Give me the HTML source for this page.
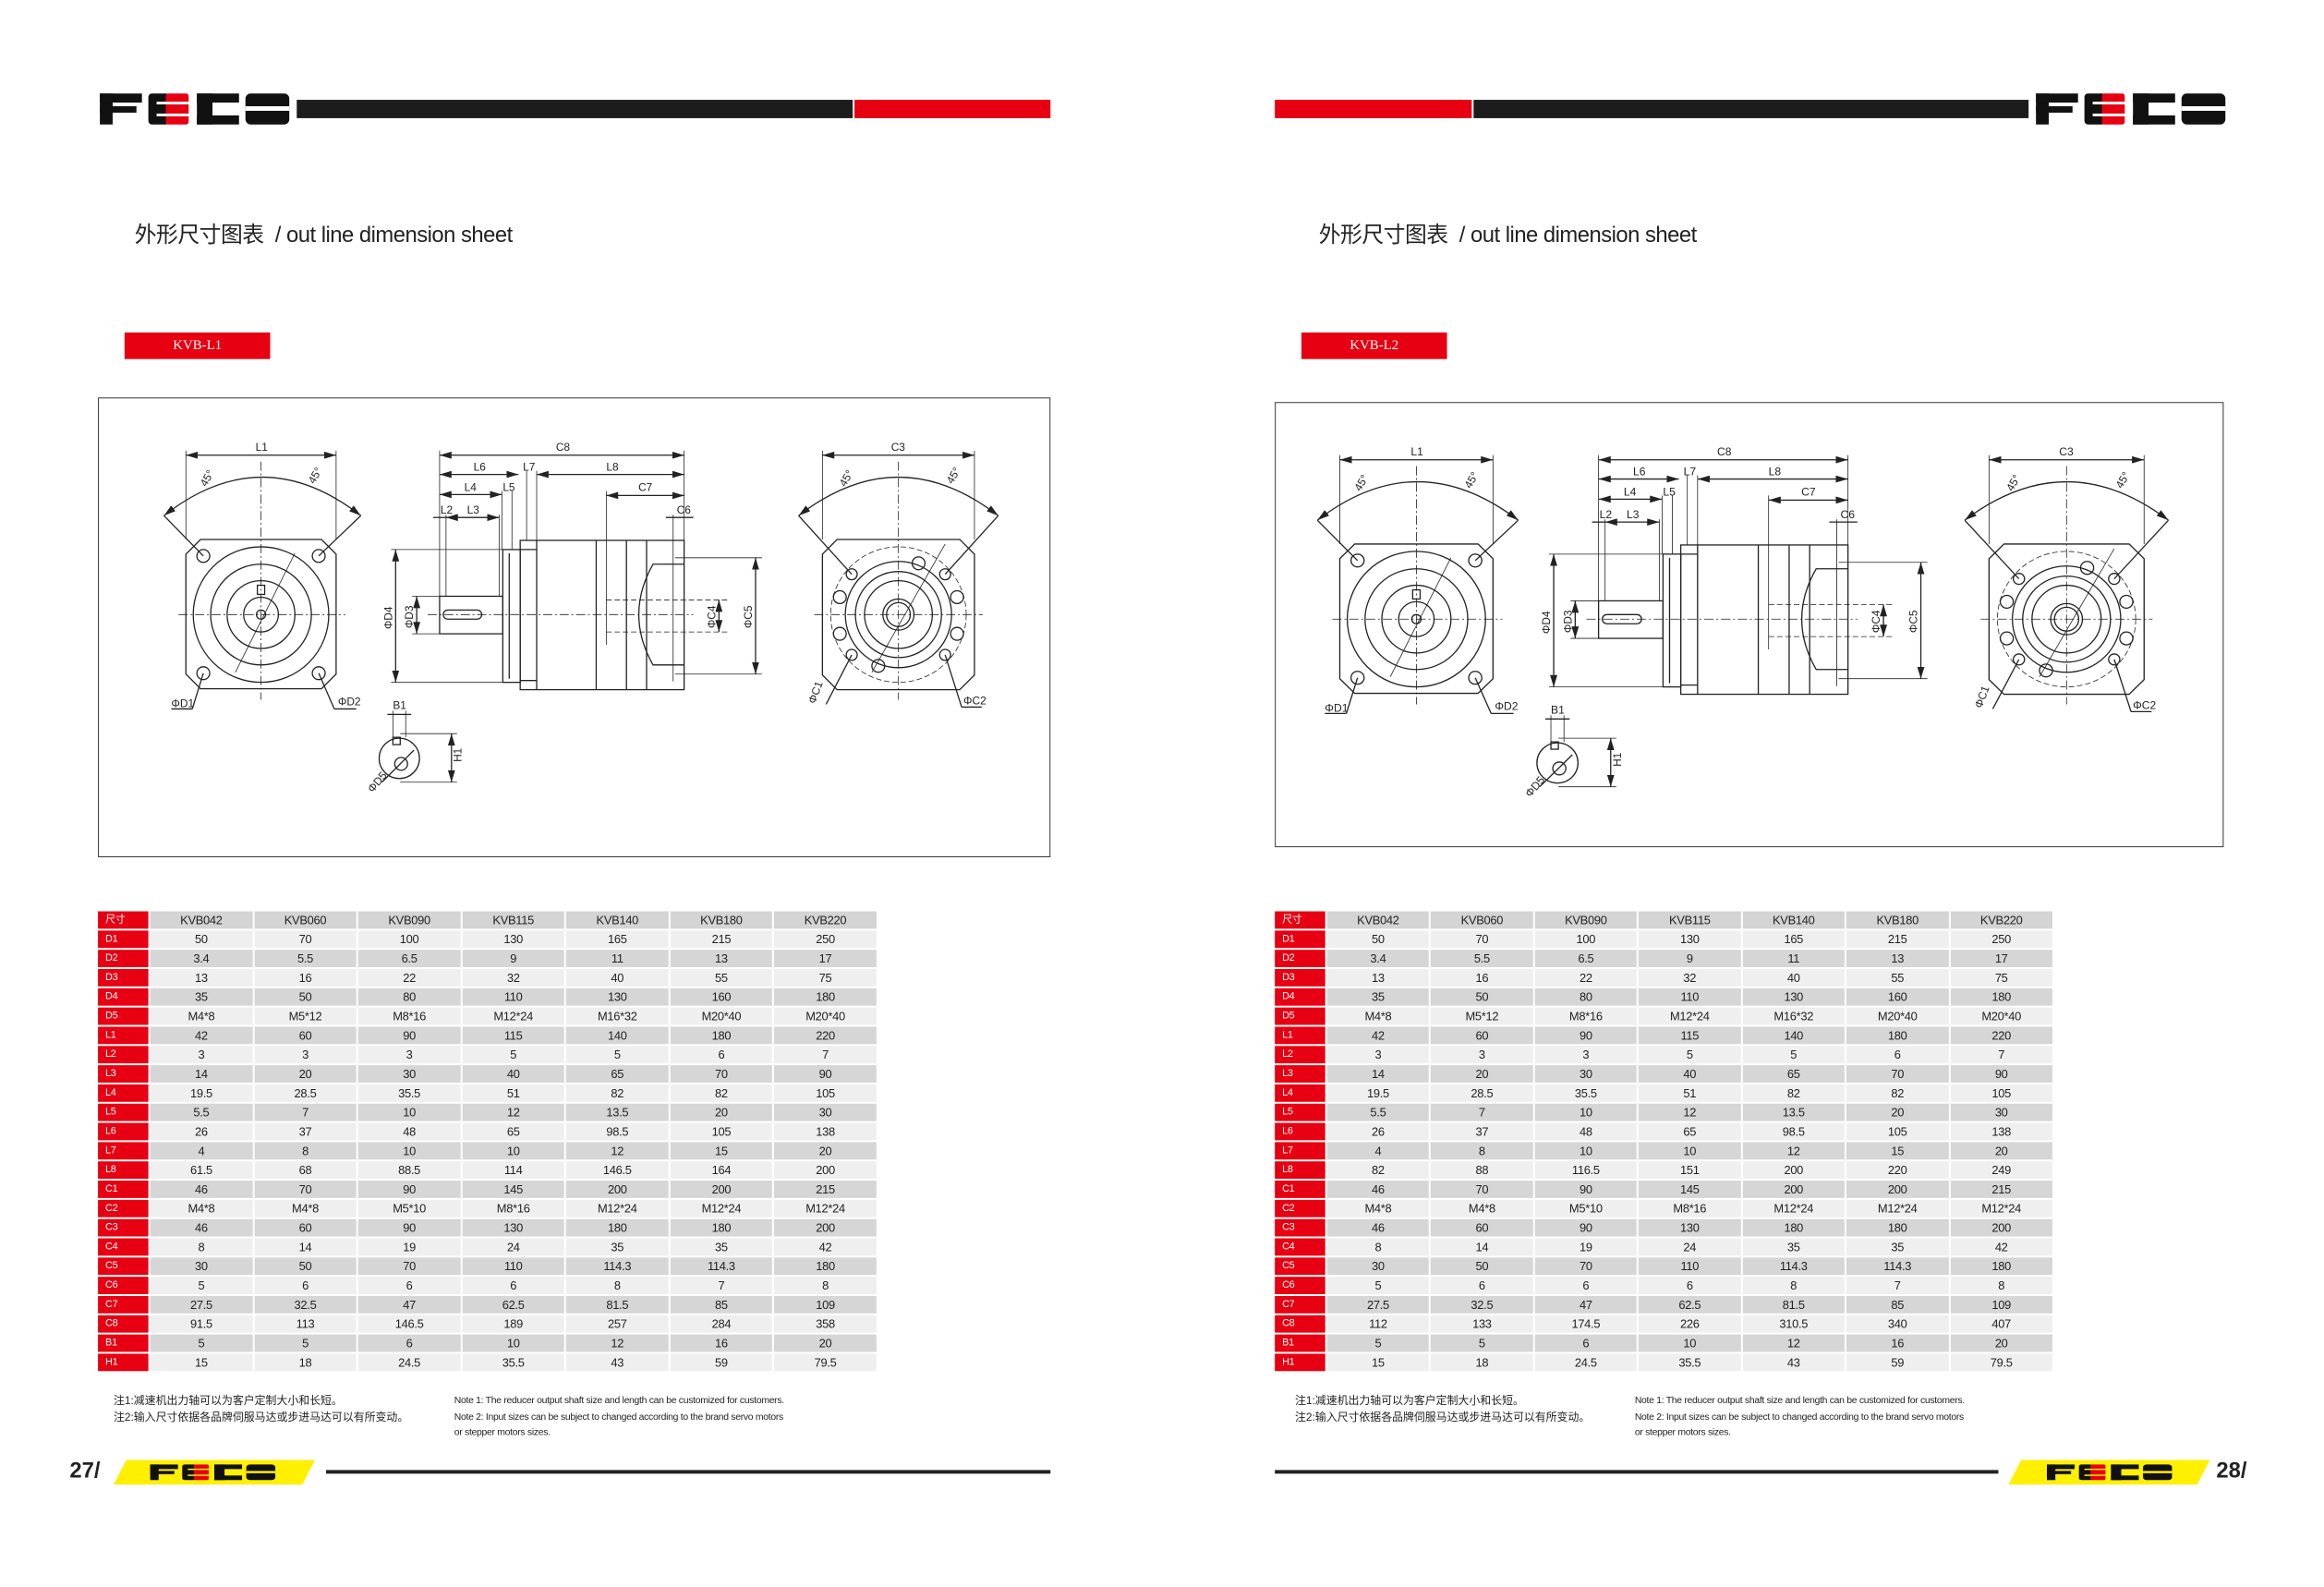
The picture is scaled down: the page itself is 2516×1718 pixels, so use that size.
<!DOCTYPE html>
<html><head><meta charset="utf-8"><style>
*{margin:0;padding:0;box-sizing:border-box}
body{width:2516px;height:1718px;background:#fff;position:relative;overflow:hidden;font-family:"Liberation Sans","Noto Sans CJK SC",sans-serif;color:#222}
#w{position:absolute;left:0;top:0;width:2516px;height:1718px;transform:scale(0.9915);transform-origin:0 0}
.abs{position:absolute}
.title{font-size:24px;white-space:nowrap;letter-spacing:-0.5px}
.lab{background:#e60012;color:#fff;font-family:"Liberation Serif",serif;font-size:15px;text-align:center;line-height:29px}
.frame{border:1.5px solid #333;background:#fff}
table{border-collapse:separate;border-spacing:2px 2px;table-layout:fixed;font-size:13px;text-align:center}
td{height:19px;line-height:19px;padding:0;white-space:nowrap;letter-spacing:-0.3px}
td.r{background:#e60012;color:#fff;font-size:11px;text-align:left;padding-left:8px}
tr.h td{background:#d4d4d4}
tr.a td{background:#efefef}
tr.b td{background:#d6d6d6}
tr td.r{background:#e60012}
.note{font-size:12px;line-height:18px;white-space:nowrap}
.noteen{font-size:10.5px;line-height:17.5px;white-space:nowrap;letter-spacing:-0.3px}
.pg{font-size:24px;font-weight:bold}
svg text{font-family:"Liberation Sans",sans-serif}
</style></head><body><div id="w">

<!-- LEFT PAGE HEADER -->
<svg class="abs" style="left:109px;top:102px" width="207" height="34" viewBox="0 0 207 34">
<rect x="0" y="0" width="14" height="34" fill="#111"/><rect x="0" y="0" width="46" height="10" fill="#111"/><rect x="0" y="14" width="40" height="7" fill="#111"/>
<rect x="53" y="0" width="23" height="34" rx="4" fill="#111"/><rect x="72" y="0" width="25" height="34" rx="3" fill="#e60012"/><rect x="62" y="9" width="36" height="3" fill="#fff"/><rect x="62" y="22" width="36" height="3" fill="#fff"/>
<rect x="106" y="0" width="46" height="10" fill="#111"/><rect x="106" y="0" width="17" height="34" fill="#111"/><rect x="106" y="24" width="46" height="10" fill="#111"/>
<rect x="159" y="0" width="48" height="34" rx="6" fill="#111"/><rect x="159" y="14" width="48" height="5" fill="#fff"/>
</svg>
<div class="abs" style="left:324px;top:109px;width:607px;height:20px;background:#1c1c1c"></div>
<div class="abs" style="left:933px;top:109px;width:214px;height:20px;background:#e60012"></div>
<div class="abs title" style="left:147px;top:236px">外形尺寸图表 &nbsp;/ out line dimension sheet</div>
<div class="abs lab" style="left:136px;top:363px;width:159px;height:29px">KVB-L1</div>

<!-- RIGHT PAGE HEADER -->
<div class="abs" style="left:1392px;top:109px;width:215px;height:20px;background:#e60012"></div>
<div class="abs" style="left:1609px;top:109px;width:606px;height:20px;background:#1c1c1c"></div>
<svg class="abs" style="left:2223px;top:102px" width="207" height="34" viewBox="0 0 207 34">
<rect x="0" y="0" width="14" height="34" fill="#111"/><rect x="0" y="0" width="46" height="10" fill="#111"/><rect x="0" y="14" width="40" height="7" fill="#111"/>
<rect x="53" y="0" width="23" height="34" rx="4" fill="#111"/><rect x="72" y="0" width="25" height="34" rx="3" fill="#e60012"/><rect x="62" y="9" width="36" height="3" fill="#fff"/><rect x="62" y="22" width="36" height="3" fill="#fff"/>
<rect x="106" y="0" width="46" height="10" fill="#111"/><rect x="106" y="0" width="17" height="34" fill="#111"/><rect x="106" y="24" width="46" height="10" fill="#111"/>
<rect x="159" y="0" width="48" height="34" rx="6" fill="#111"/><rect x="159" y="14" width="48" height="5" fill="#fff"/>
</svg>
<div class="abs title" style="left:1440px;top:236px">外形尺寸图表 &nbsp;/ out line dimension sheet</div>
<div class="abs lab" style="left:1421px;top:363px;width:159px;height:29px">KVB-L2</div>

<!-- LEFT FRAME -->
<div class="abs frame" style="left:107px;top:434px;width:1040px;height:502px">
<svg width="1040" height="502" viewBox="0 0 1040 502" style="position:absolute;left:-1.5px;top:-1.5px">
<defs><marker id="ar" viewBox="0 0 10 6" refX="10" refY="3" markerWidth="10" markerHeight="6" orient="auto-start-reverse"><path d="M0,0 L10,3 L0,6 z" fill="#222"/></marker></defs>
<g stroke="#222" stroke-width="1.3" fill="none">
<polygon points="112,155 244,155 260,171 260,302 244,318 112,318 96,302 96,171"/>
<circle cx="178" cy="237" r="74"/><circle cx="178" cy="237" r="55"/><circle cx="178" cy="237" r="37"/><circle cx="178" cy="237" r="19"/><circle cx="178" cy="237" r="5"/>
<rect x="174" y="205" width="8" height="10"/>
<circle cx="115" cy="173" r="7"/><circle cx="241" cy="173" r="7"/><circle cx="115" cy="301" r="7"/><circle cx="241" cy="301" r="7"/>
<line x1="88" y1="237" x2="270" y2="237" stroke-dasharray="10,3,2,3" stroke-width="0.8"/>
<line x1="178" y1="70" x2="178" y2="330" stroke-dasharray="10,3,2,3" stroke-width="0.8"/>
<path d="M72,129 Q179,45 287,129" marker-start="url(#ar)" marker-end="url(#ar)"/>
<line x1="72" y1="129" x2="115" y2="173"/><line x1="287" y1="129" x2="241" y2="173"/>
<line x1="150" y1="300" x2="215" y2="170" stroke-width="0.8"/>
<line x1="96" y1="58" x2="96" y2="155" stroke-width="0.8"/><line x1="260" y1="58" x2="260" y2="155" stroke-width="0.8"/>
<line x1="96" y1="63" x2="260" y2="63" marker-start="url(#ar)" marker-end="url(#ar)"/>
<line x1="115" y1="301" x2="103" y2="340"/><line x1="80" y1="340" x2="103" y2="340"/>
<line x1="241" y1="301" x2="258" y2="340"/><line x1="258" y1="340" x2="282" y2="340"/>
<rect x="373" y="217" width="69" height="41"/><rect x="377" y="232" width="42" height="10" rx="5"/>
<rect x="442" y="166" width="19" height="145"/><line x1="449" y1="170" x2="449" y2="307"/>
<rect x="461" y="156" width="179" height="163"/>
<line x1="479" y1="156" x2="479" y2="319"/><line x1="544" y1="156" x2="544" y2="319"/><line x1="577" y1="156" x2="577" y2="319"/><line x1="599" y1="156" x2="599" y2="319"/>
<line x1="461" y1="166" x2="479" y2="166"/><line x1="461" y1="309" x2="479" y2="309"/>
<path d="M640,182 L606,182 Q575,237 606,292 L640,292"/>
<line x1="360" y1="237" x2="650" y2="237" stroke-dasharray="10,3,2,3" stroke-width="0.8"/>
<line x1="373" y1="58" x2="373" y2="217" stroke-width="0.8"/><line x1="640" y1="58" x2="640" y2="156" stroke-width="0.8"/>
<line x1="479" y1="80" x2="479" y2="156" stroke-width="0.8"/><line x1="468" y1="80" x2="468" y2="156" stroke-width="0.8"/>
<line x1="452" y1="102" x2="452" y2="166" stroke-width="0.8"/><line x1="441" y1="102" x2="441" y2="166" stroke-width="0.8"/>
<line x1="380" y1="128" x2="380" y2="217" stroke-width="0.8"/><line x1="438" y1="128" x2="438" y2="217" stroke-width="0.8"/>
<line x1="555" y1="102" x2="555" y2="270" stroke-width="0.8"/><line x1="628" y1="128" x2="628" y2="310" stroke-width="0.8"/>
<line x1="373" y1="63" x2="640" y2="63" marker-start="url(#ar)" marker-end="url(#ar)"/>
<line x1="373" y1="84" x2="459" y2="84" marker-start="url(#ar)" marker-end="url(#ar)"/>
<line x1="479" y1="84" x2="640" y2="84" marker-start="url(#ar)" marker-end="url(#ar)"/>
<line x1="373" y1="106" x2="441" y2="106" marker-start="url(#ar)" marker-end="url(#ar)"/>
<line x1="555" y1="107" x2="640" y2="107" marker-start="url(#ar)" marker-end="url(#ar)"/>
<line x1="366" y1="131" x2="380" y2="131"/><line x1="380" y1="131" x2="438" y2="131" marker-start="url(#ar)" marker-end="url(#ar)"/>
<line x1="620" y1="131" x2="650" y2="131"/>
<line x1="320" y1="166" x2="442" y2="166" stroke-width="0.8"/><line x1="320" y1="311" x2="442" y2="311" stroke-width="0.8"/>
<line x1="325" y1="166" x2="325" y2="311" marker-start="url(#ar)" marker-end="url(#ar)"/>
<line x1="343" y1="217" x2="373" y2="217" stroke-width="0.8"/><line x1="343" y1="258" x2="373" y2="258" stroke-width="0.8"/>
<line x1="348" y1="217" x2="348" y2="258" marker-start="url(#ar)" marker-end="url(#ar)"/>
<line x1="555" y1="221" x2="690" y2="221" stroke-width="0.8" stroke-dasharray="6,3"/><line x1="555" y1="256" x2="690" y2="256" stroke-width="0.8" stroke-dasharray="6,3"/>
<line x1="678" y1="221" x2="678" y2="256" marker-start="url(#ar)" marker-end="url(#ar)"/>
<line x1="630" y1="175" x2="725" y2="175" stroke-width="0.8"/><line x1="630" y1="302" x2="725" y2="302" stroke-width="0.8"/>
<line x1="718" y1="175" x2="718" y2="302" marker-start="url(#ar)" marker-end="url(#ar)"/>
<polygon points="807,155 941,155 957,171 957,303 941,319 807,319 791,303 791,171"/>
<circle cx="874" cy="237" r="74" stroke-dasharray="6,3" stroke-width="0.8"/><circle cx="874" cy="237" r="58"/><circle cx="874" cy="237" r="47"/><circle cx="874" cy="237" r="37"/><circle cx="874" cy="237" r="17"/><circle cx="874" cy="237" r="13"/>
<circle cx="823" cy="193" r="6"/><circle cx="925" cy="193" r="6"/><circle cx="823" cy="281" r="6"/><circle cx="925" cy="281" r="6"/>
<circle cx="810" cy="218" r="7"/><circle cx="938" cy="218" r="7"/><circle cx="810" cy="258" r="7"/><circle cx="938" cy="258" r="7"/>
<circle cx="896" cy="181" r="7"/><circle cx="852" cy="293" r="7"/>
<line x1="782" y1="237" x2="966" y2="237" stroke-dasharray="10,3,2,3" stroke-width="0.8"/>
<line x1="874" y1="70" x2="874" y2="330" stroke-dasharray="10,3,2,3" stroke-width="0.8"/>
<path d="M765,129 Q874,45 983,129" marker-start="url(#ar)" marker-end="url(#ar)"/>
<line x1="765" y1="129" x2="823" y2="193"/><line x1="983" y1="129" x2="925" y2="193"/>
<line x1="845" y1="300" x2="925" y2="160" stroke-width="0.8"/>
<line x1="791" y1="58" x2="791" y2="155" stroke-width="0.8"/><line x1="957" y1="58" x2="957" y2="155" stroke-width="0.8"/>
<line x1="791" y1="63" x2="957" y2="63" marker-start="url(#ar)" marker-end="url(#ar)"/>
<line x1="823" y1="281" x2="795" y2="335"/><line x1="925" y1="281" x2="943" y2="338"/><line x1="943" y1="338" x2="965" y2="338"/>
<circle cx="329" cy="394" r="22"/><circle cx="331" cy="400" r="7"/><rect x="322" y="371" width="8" height="8"/>
<line x1="322" y1="342" x2="322" y2="371" stroke-width="0.8"/><line x1="336" y1="342" x2="336" y2="371" stroke-width="0.8"/>
<line x1="316" y1="346" x2="342" y2="346"/>
<line x1="330" y1="367" x2="392" y2="367" stroke-width="0.8"/><line x1="330" y1="420" x2="392" y2="420" stroke-width="0.8"/>
<line x1="386" y1="367" x2="386" y2="420" marker-start="url(#ar)" marker-end="url(#ar)"/>
<line x1="345" y1="385" x2="310" y2="420"/>
</g>
<g font-size="12" fill="#222">
<text x="172" y="58">L1</text><text x="500" y="58">C8</text><text x="866" y="58">C3</text>
<text x="410" y="80">L6</text><text x="464" y="80">L7</text><text x="555" y="80">L8</text>
<text x="400" y="102">L4</text><text x="442" y="102">L5</text><text x="590" y="102">C7</text>
<text x="374" y="127">L2</text><text x="403" y="127">L3</text><text x="632" y="127">C6</text>
<text x="118" y="98" transform="rotate(-60 118 98)">45°</text><text x="236" y="95" transform="rotate(-60 236 95)">45°</text>
<text x="816" y="98" transform="rotate(-60 816 98)">45°</text><text x="933" y="95" transform="rotate(-60 933 95)">45°</text>
<text x="80" y="338">ΦD1</text><text x="262" y="336">ΦD2</text>
<text x="783" y="335" transform="rotate(-70 783 335)">ΦC1</text><text x="945" y="335">ΦC2</text>
<text x="321" y="253" transform="rotate(-90 321 253)">ΦD4</text><text x="344" y="252" transform="rotate(-90 344 252)">ΦD3</text>
<text x="674" y="252" transform="rotate(-90 674 252)">ΦC4</text><text x="714" y="252" transform="rotate(-90 714 252)">ΦC5</text>
<text x="322" y="340">B1</text><text x="397" y="398" transform="rotate(-90 397 398)">H1</text>
<text x="300" y="432" transform="rotate(-50 300 432)">ΦD5</text>
</g>
</svg></div>

<!-- RIGHT FRAME -->
<div class="abs frame" style="left:1392px;top:439px;width:1036px;height:486px">
<svg width="1036" height="486" viewBox="0 0 1036 486" style="position:absolute;left:-1.5px;top:-1.5px">
<defs><marker id="ar2" viewBox="0 0 10 6" refX="10" refY="3" markerWidth="10" markerHeight="6" orient="auto-start-reverse"><path d="M0,0 L10,3 L0,6 z" fill="#222"/></marker></defs>
<g transform="translate(-27,0) scale(1.02,1)">
<g stroke="#222" stroke-width="1.3" fill="none">
<polygon points="112,155 244,155 260,171 260,302 244,318 112,318 96,302 96,171"/>
<circle cx="178" cy="237" r="74"/><circle cx="178" cy="237" r="55"/><circle cx="178" cy="237" r="37"/><circle cx="178" cy="237" r="19"/><circle cx="178" cy="237" r="5"/>
<rect x="174" y="205" width="8" height="10"/>
<circle cx="115" cy="173" r="7"/><circle cx="241" cy="173" r="7"/><circle cx="115" cy="301" r="7"/><circle cx="241" cy="301" r="7"/>
<line x1="88" y1="237" x2="270" y2="237" stroke-dasharray="10,3,2,3" stroke-width="0.8"/>
<line x1="178" y1="70" x2="178" y2="330" stroke-dasharray="10,3,2,3" stroke-width="0.8"/>
<path d="M72,129 Q179,45 287,129" marker-start="url(#ar2)" marker-end="url(#ar2)"/>
<line x1="72" y1="129" x2="115" y2="173"/><line x1="287" y1="129" x2="241" y2="173"/>
<line x1="150" y1="300" x2="215" y2="170" stroke-width="0.8"/>
<line x1="96" y1="58" x2="96" y2="155" stroke-width="0.8"/><line x1="260" y1="58" x2="260" y2="155" stroke-width="0.8"/>
<line x1="96" y1="63" x2="260" y2="63" marker-start="url(#ar2)" marker-end="url(#ar2)"/>
<line x1="115" y1="301" x2="103" y2="340"/><line x1="80" y1="340" x2="103" y2="340"/>
<line x1="241" y1="301" x2="258" y2="340"/><line x1="258" y1="340" x2="282" y2="340"/>
<rect x="373" y="217" width="69" height="41"/><rect x="377" y="232" width="42" height="10" rx="5"/>
<rect x="442" y="166" width="19" height="145"/><line x1="449" y1="170" x2="449" y2="307"/>
<rect x="461" y="156" width="179" height="163"/>
<line x1="479" y1="156" x2="479" y2="319"/><line x1="544" y1="156" x2="544" y2="319"/><line x1="577" y1="156" x2="577" y2="319"/><line x1="599" y1="156" x2="599" y2="319"/>
<line x1="461" y1="166" x2="479" y2="166"/><line x1="461" y1="309" x2="479" y2="309"/>
<path d="M640,182 L606,182 Q575,237 606,292 L640,292"/>
<line x1="360" y1="237" x2="650" y2="237" stroke-dasharray="10,3,2,3" stroke-width="0.8"/>
<line x1="373" y1="58" x2="373" y2="217" stroke-width="0.8"/><line x1="640" y1="58" x2="640" y2="156" stroke-width="0.8"/>
<line x1="479" y1="80" x2="479" y2="156" stroke-width="0.8"/><line x1="468" y1="80" x2="468" y2="156" stroke-width="0.8"/>
<line x1="452" y1="102" x2="452" y2="166" stroke-width="0.8"/><line x1="441" y1="102" x2="441" y2="166" stroke-width="0.8"/>
<line x1="380" y1="128" x2="380" y2="217" stroke-width="0.8"/><line x1="438" y1="128" x2="438" y2="217" stroke-width="0.8"/>
<line x1="555" y1="102" x2="555" y2="270" stroke-width="0.8"/><line x1="628" y1="128" x2="628" y2="310" stroke-width="0.8"/>
<line x1="373" y1="63" x2="640" y2="63" marker-start="url(#ar2)" marker-end="url(#ar2)"/>
<line x1="373" y1="84" x2="459" y2="84" marker-start="url(#ar2)" marker-end="url(#ar2)"/>
<line x1="479" y1="84" x2="640" y2="84" marker-start="url(#ar2)" marker-end="url(#ar2)"/>
<line x1="373" y1="106" x2="441" y2="106" marker-start="url(#ar2)" marker-end="url(#ar2)"/>
<line x1="555" y1="107" x2="640" y2="107" marker-start="url(#ar2)" marker-end="url(#ar2)"/>
<line x1="366" y1="131" x2="380" y2="131"/><line x1="380" y1="131" x2="438" y2="131" marker-start="url(#ar2)" marker-end="url(#ar2)"/>
<line x1="620" y1="131" x2="650" y2="131"/>
<line x1="320" y1="166" x2="442" y2="166" stroke-width="0.8"/><line x1="320" y1="311" x2="442" y2="311" stroke-width="0.8"/>
<line x1="325" y1="166" x2="325" y2="311" marker-start="url(#ar2)" marker-end="url(#ar2)"/>
<line x1="343" y1="217" x2="373" y2="217" stroke-width="0.8"/><line x1="343" y1="258" x2="373" y2="258" stroke-width="0.8"/>
<line x1="348" y1="217" x2="348" y2="258" marker-start="url(#ar2)" marker-end="url(#ar2)"/>
<line x1="555" y1="221" x2="690" y2="221" stroke-width="0.8" stroke-dasharray="6,3"/><line x1="555" y1="256" x2="690" y2="256" stroke-width="0.8" stroke-dasharray="6,3"/>
<line x1="678" y1="221" x2="678" y2="256" marker-start="url(#ar2)" marker-end="url(#ar2)"/>
<line x1="630" y1="175" x2="725" y2="175" stroke-width="0.8"/><line x1="630" y1="302" x2="725" y2="302" stroke-width="0.8"/>
<line x1="718" y1="175" x2="718" y2="302" marker-start="url(#ar2)" marker-end="url(#ar2)"/>
<polygon points="807,155 941,155 957,171 957,303 941,319 807,319 791,303 791,171"/>
<circle cx="874" cy="237" r="74" stroke-dasharray="6,3" stroke-width="0.8"/><circle cx="874" cy="237" r="58"/><circle cx="874" cy="237" r="47"/><circle cx="874" cy="237" r="37"/><circle cx="874" cy="237" r="17"/><circle cx="874" cy="237" r="13"/>
<circle cx="823" cy="193" r="6"/><circle cx="925" cy="193" r="6"/><circle cx="823" cy="281" r="6"/><circle cx="925" cy="281" r="6"/>
<circle cx="810" cy="218" r="7"/><circle cx="938" cy="218" r="7"/><circle cx="810" cy="258" r="7"/><circle cx="938" cy="258" r="7"/>
<circle cx="896" cy="181" r="7"/><circle cx="852" cy="293" r="7"/>
<line x1="782" y1="237" x2="966" y2="237" stroke-dasharray="10,3,2,3" stroke-width="0.8"/>
<line x1="874" y1="70" x2="874" y2="330" stroke-dasharray="10,3,2,3" stroke-width="0.8"/>
<path d="M765,129 Q874,45 983,129" marker-start="url(#ar2)" marker-end="url(#ar2)"/>
<line x1="765" y1="129" x2="823" y2="193"/><line x1="983" y1="129" x2="925" y2="193"/>
<line x1="845" y1="300" x2="925" y2="160" stroke-width="0.8"/>
<line x1="791" y1="58" x2="791" y2="155" stroke-width="0.8"/><line x1="957" y1="58" x2="957" y2="155" stroke-width="0.8"/>
<line x1="791" y1="63" x2="957" y2="63" marker-start="url(#ar2)" marker-end="url(#ar2)"/>
<line x1="823" y1="281" x2="795" y2="335"/><line x1="925" y1="281" x2="943" y2="338"/><line x1="943" y1="338" x2="965" y2="338"/>
<circle cx="329" cy="394" r="22"/><circle cx="331" cy="400" r="7"/><rect x="322" y="371" width="8" height="8"/>
<line x1="322" y1="342" x2="322" y2="371" stroke-width="0.8"/><line x1="336" y1="342" x2="336" y2="371" stroke-width="0.8"/>
<line x1="316" y1="346" x2="342" y2="346"/>
<line x1="330" y1="367" x2="392" y2="367" stroke-width="0.8"/><line x1="330" y1="420" x2="392" y2="420" stroke-width="0.8"/>
<line x1="386" y1="367" x2="386" y2="420" marker-start="url(#ar2)" marker-end="url(#ar2)"/>
<line x1="345" y1="385" x2="310" y2="420"/>
</g>
<g font-size="12" fill="#222">
<text x="172" y="58">L1</text><text x="500" y="58">C8</text><text x="866" y="58">C3</text>
<text x="410" y="80">L6</text><text x="464" y="80">L7</text><text x="555" y="80">L8</text>
<text x="400" y="102">L4</text><text x="442" y="102">L5</text><text x="590" y="102">C7</text>
<text x="374" y="127">L2</text><text x="403" y="127">L3</text><text x="632" y="127">C6</text>
<text x="118" y="98" transform="rotate(-60 118 98)">45°</text><text x="236" y="95" transform="rotate(-60 236 95)">45°</text>
<text x="816" y="98" transform="rotate(-60 816 98)">45°</text><text x="933" y="95" transform="rotate(-60 933 95)">45°</text>
<text x="80" y="338">ΦD1</text><text x="262" y="336">ΦD2</text>
<text x="783" y="335" transform="rotate(-70 783 335)">ΦC1</text><text x="945" y="335">ΦC2</text>
<text x="321" y="253" transform="rotate(-90 321 253)">ΦD4</text><text x="344" y="252" transform="rotate(-90 344 252)">ΦD3</text>
<text x="674" y="252" transform="rotate(-90 674 252)">ΦC4</text><text x="714" y="252" transform="rotate(-90 714 252)">ΦC5</text>
<text x="322" y="340">B1</text><text x="397" y="398" transform="rotate(-90 397 398)">H1</text>
<text x="300" y="432" transform="rotate(-50 300 432)">ΦD5</text>
</g></g>
</svg></div>

<!-- LEFT TABLE -->
<table class="abs" style="left:105px;top:993px;width:854px">
<colgroup><col style="width:55px"><col><col><col><col><col><col><col></colgroup>
<tr class="h"><td class="r">尺寸</td><td>KVB042</td><td>KVB060</td><td>KVB090</td><td>KVB115</td><td>KVB140</td><td>KVB180</td><td>KVB220</td></tr>
<tr class="a"><td class="r">D1</td><td>50</td><td>70</td><td>100</td><td>130</td><td>165</td><td>215</td><td>250</td></tr>
<tr class="b"><td class="r">D2</td><td>3.4</td><td>5.5</td><td>6.5</td><td>9</td><td>11</td><td>13</td><td>17</td></tr>
<tr class="a"><td class="r">D3</td><td>13</td><td>16</td><td>22</td><td>32</td><td>40</td><td>55</td><td>75</td></tr>
<tr class="b"><td class="r">D4</td><td>35</td><td>50</td><td>80</td><td>110</td><td>130</td><td>160</td><td>180</td></tr>
<tr class="a"><td class="r">D5</td><td>M4*8</td><td>M5*12</td><td>M8*16</td><td>M12*24</td><td>M16*32</td><td>M20*40</td><td>M20*40</td></tr>
<tr class="b"><td class="r">L1</td><td>42</td><td>60</td><td>90</td><td>115</td><td>140</td><td>180</td><td>220</td></tr>
<tr class="a"><td class="r">L2</td><td>3</td><td>3</td><td>3</td><td>5</td><td>5</td><td>6</td><td>7</td></tr>
<tr class="b"><td class="r">L3</td><td>14</td><td>20</td><td>30</td><td>40</td><td>65</td><td>70</td><td>90</td></tr>
<tr class="a"><td class="r">L4</td><td>19.5</td><td>28.5</td><td>35.5</td><td>51</td><td>82</td><td>82</td><td>105</td></tr>
<tr class="b"><td class="r">L5</td><td>5.5</td><td>7</td><td>10</td><td>12</td><td>13.5</td><td>20</td><td>30</td></tr>
<tr class="a"><td class="r">L6</td><td>26</td><td>37</td><td>48</td><td>65</td><td>98.5</td><td>105</td><td>138</td></tr>
<tr class="b"><td class="r">L7</td><td>4</td><td>8</td><td>10</td><td>10</td><td>12</td><td>15</td><td>20</td></tr>
<tr class="a"><td class="r">L8</td><td>61.5</td><td>68</td><td>88.5</td><td>114</td><td>146.5</td><td>164</td><td>200</td></tr>
<tr class="b"><td class="r">C1</td><td>46</td><td>70</td><td>90</td><td>145</td><td>200</td><td>200</td><td>215</td></tr>
<tr class="a"><td class="r">C2</td><td>M4*8</td><td>M4*8</td><td>M5*10</td><td>M8*16</td><td>M12*24</td><td>M12*24</td><td>M12*24</td></tr>
<tr class="b"><td class="r">C3</td><td>46</td><td>60</td><td>90</td><td>130</td><td>180</td><td>180</td><td>200</td></tr>
<tr class="a"><td class="r">C4</td><td>8</td><td>14</td><td>19</td><td>24</td><td>35</td><td>35</td><td>42</td></tr>
<tr class="b"><td class="r">C5</td><td>30</td><td>50</td><td>70</td><td>110</td><td>114.3</td><td>114.3</td><td>180</td></tr>
<tr class="a"><td class="r">C6</td><td>5</td><td>6</td><td>6</td><td>6</td><td>8</td><td>7</td><td>8</td></tr>
<tr class="b"><td class="r">C7</td><td>27.5</td><td>32.5</td><td>47</td><td>62.5</td><td>81.5</td><td>85</td><td>109</td></tr>
<tr class="a"><td class="r">C8</td><td>91.5</td><td>113</td><td>146.5</td><td>189</td><td>257</td><td>284</td><td>358</td></tr>
<tr class="b"><td class="r">B1</td><td>5</td><td>5</td><td>6</td><td>10</td><td>12</td><td>16</td><td>20</td></tr>
<tr class="a"><td class="r">H1</td><td>15</td><td>18</td><td>24.5</td><td>35.5</td><td>43</td><td>59</td><td>79.5</td></tr>
</table>

<!-- RIGHT TABLE -->
<table class="abs" style="left:1390px;top:993px;width:853px">
<colgroup><col style="width:55px"><col><col><col><col><col><col><col></colgroup>
<tr class="h"><td class="r">尺寸</td><td>KVB042</td><td>KVB060</td><td>KVB090</td><td>KVB115</td><td>KVB140</td><td>KVB180</td><td>KVB220</td></tr>
<tr class="a"><td class="r">D1</td><td>50</td><td>70</td><td>100</td><td>130</td><td>165</td><td>215</td><td>250</td></tr>
<tr class="b"><td class="r">D2</td><td>3.4</td><td>5.5</td><td>6.5</td><td>9</td><td>11</td><td>13</td><td>17</td></tr>
<tr class="a"><td class="r">D3</td><td>13</td><td>16</td><td>22</td><td>32</td><td>40</td><td>55</td><td>75</td></tr>
<tr class="b"><td class="r">D4</td><td>35</td><td>50</td><td>80</td><td>110</td><td>130</td><td>160</td><td>180</td></tr>
<tr class="a"><td class="r">D5</td><td>M4*8</td><td>M5*12</td><td>M8*16</td><td>M12*24</td><td>M16*32</td><td>M20*40</td><td>M20*40</td></tr>
<tr class="b"><td class="r">L1</td><td>42</td><td>60</td><td>90</td><td>115</td><td>140</td><td>180</td><td>220</td></tr>
<tr class="a"><td class="r">L2</td><td>3</td><td>3</td><td>3</td><td>5</td><td>5</td><td>6</td><td>7</td></tr>
<tr class="b"><td class="r">L3</td><td>14</td><td>20</td><td>30</td><td>40</td><td>65</td><td>70</td><td>90</td></tr>
<tr class="a"><td class="r">L4</td><td>19.5</td><td>28.5</td><td>35.5</td><td>51</td><td>82</td><td>82</td><td>105</td></tr>
<tr class="b"><td class="r">L5</td><td>5.5</td><td>7</td><td>10</td><td>12</td><td>13.5</td><td>20</td><td>30</td></tr>
<tr class="a"><td class="r">L6</td><td>26</td><td>37</td><td>48</td><td>65</td><td>98.5</td><td>105</td><td>138</td></tr>
<tr class="b"><td class="r">L7</td><td>4</td><td>8</td><td>10</td><td>10</td><td>12</td><td>15</td><td>20</td></tr>
<tr class="a"><td class="r">L8</td><td>82</td><td>88</td><td>116.5</td><td>151</td><td>200</td><td>220</td><td>249</td></tr>
<tr class="b"><td class="r">C1</td><td>46</td><td>70</td><td>90</td><td>145</td><td>200</td><td>200</td><td>215</td></tr>
<tr class="a"><td class="r">C2</td><td>M4*8</td><td>M4*8</td><td>M5*10</td><td>M8*16</td><td>M12*24</td><td>M12*24</td><td>M12*24</td></tr>
<tr class="b"><td class="r">C3</td><td>46</td><td>60</td><td>90</td><td>130</td><td>180</td><td>180</td><td>200</td></tr>
<tr class="a"><td class="r">C4</td><td>8</td><td>14</td><td>19</td><td>24</td><td>35</td><td>35</td><td>42</td></tr>
<tr class="b"><td class="r">C5</td><td>30</td><td>50</td><td>70</td><td>110</td><td>114.3</td><td>114.3</td><td>180</td></tr>
<tr class="a"><td class="r">C6</td><td>5</td><td>6</td><td>6</td><td>6</td><td>8</td><td>7</td><td>8</td></tr>
<tr class="b"><td class="r">C7</td><td>27.5</td><td>32.5</td><td>47</td><td>62.5</td><td>81.5</td><td>85</td><td>109</td></tr>
<tr class="a"><td class="r">C8</td><td>112</td><td>133</td><td>174.5</td><td>226</td><td>310.5</td><td>340</td><td>407</td></tr>
<tr class="b"><td class="r">B1</td><td>5</td><td>5</td><td>6</td><td>10</td><td>12</td><td>16</td><td>20</td></tr>
<tr class="a"><td class="r">H1</td><td>15</td><td>18</td><td>24.5</td><td>35.5</td><td>43</td><td>59</td><td>79.5</td></tr>
</table>

<!-- NOTES -->
<div class="abs note" style="left:124px;top:1520px">注1:减速机出力轴可以为客户定制大小和长短。<br>注2:输入尺寸依据各品牌伺服马达或步进马达可以有所变动。</div>
<div class="abs noteen" style="left:496px;top:1521px">Note 1: The reducer output shaft size and length can be customized for customers.<br>Note 2: Input sizes can be subject to changed according to the brand servo motors<br>or stepper motors sizes.</div>
<div class="abs note" style="left:1414px;top:1520px">注1:减速机出力轴可以为客户定制大小和长短。<br>注2:输入尺寸依据各品牌伺服马达或步进马达可以有所变动。</div>
<div class="abs noteen" style="left:1785px;top:1521px">Note 1: The reducer output shaft size and length can be customized for customers.<br>Note 2: Input sizes can be subject to changed according to the brand servo motors<br>or stepper motors sizes.</div>

<!-- FOOTERS -->
<div class="abs pg" style="left:76px;top:1592px">27/</div>
<svg class="abs" style="left:124px;top:1594px" width="220" height="27" viewBox="0 0 220 27"><polygon points="14,0 220,0 206,27 0,27" fill="#ffef00"/>
<g transform="translate(40,5) scale(0.66,0.5)">
<rect x="0" y="0" width="14" height="34" fill="#111"/><rect x="0" y="0" width="46" height="10" fill="#111"/><rect x="0" y="14" width="40" height="7" fill="#111"/>
<rect x="53" y="0" width="23" height="34" rx="4" fill="#111"/><rect x="72" y="0" width="25" height="34" rx="3" fill="#e60012"/><rect x="62" y="9" width="36" height="3" fill="#ffef00"/><rect x="62" y="22" width="36" height="3" fill="#ffef00"/>
<rect x="106" y="0" width="46" height="10" fill="#111"/><rect x="106" y="0" width="17" height="34" fill="#111"/><rect x="106" y="24" width="46" height="10" fill="#111"/>
<rect x="159" y="0" width="48" height="34" rx="6" fill="#111"/><rect x="159" y="14" width="48" height="5" fill="#ffef00"/></g></svg>
<div class="abs" style="left:356px;top:1605px;width:791px;height:4px;background:#222"></div>

<div class="abs" style="left:1392px;top:1605px;width:790px;height:4px;background:#222"></div>
<svg class="abs" style="left:2193px;top:1594px" width="220" height="27" viewBox="0 0 220 27"><polygon points="14,0 220,0 206,27 0,27" fill="#ffef00"/>
<g transform="translate(42,5) scale(0.66,0.5)">
<rect x="0" y="0" width="14" height="34" fill="#111"/><rect x="0" y="0" width="46" height="10" fill="#111"/><rect x="0" y="14" width="40" height="7" fill="#111"/>
<rect x="53" y="0" width="23" height="34" rx="4" fill="#111"/><rect x="72" y="0" width="25" height="34" rx="3" fill="#e60012"/><rect x="62" y="9" width="36" height="3" fill="#ffef00"/><rect x="62" y="22" width="36" height="3" fill="#ffef00"/>
<rect x="106" y="0" width="46" height="10" fill="#111"/><rect x="106" y="0" width="17" height="34" fill="#111"/><rect x="106" y="24" width="46" height="10" fill="#111"/>
<rect x="159" y="0" width="48" height="34" rx="6" fill="#111"/><rect x="159" y="14" width="48" height="5" fill="#ffef00"/></g></svg>
<div class="abs pg" style="left:2420px;top:1592px">28/</div>
</div></body></html>
